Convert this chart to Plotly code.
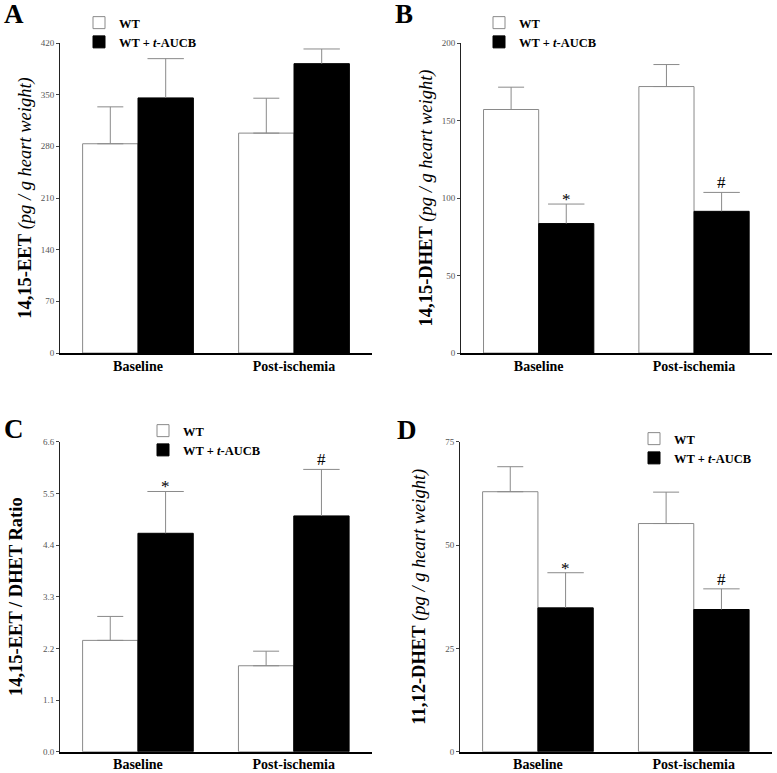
import plotly.graph_objects as go

categories = ["Baseline", "Post-ischemia"]

# Panel A: 14,15-EET
a_wt = [283.5, 297.9]
a_wt_err = [50.0, 47.3]
a_tr = [345.6, 392.0]
a_tr_err = [53.2, 19.9]

# Panel B: 14,15-DHET
b_wt = [157.1, 171.9]
b_wt_err = [14.4, 14.2]
b_tr = [83.5, 91.4]
b_tr_err = [12.6, 12.2]

# Panel C: 14,15-EET / DHET ratio
c_wt = [2.37, 1.83]
c_wt_err = [0.51, 0.31]
c_tr = [4.65, 5.02]
c_tr_err = [0.89, 0.99]

# Panel D: 11,12-DHET
d_wt = [62.9, 55.2]
d_wt_err = [6.05, 7.6]
d_tr = [34.8, 34.4]
d_tr_err = [8.5, 5.0]

sig_b = ["*", "#"]
sig_c = ["*", "#"]
sig_d = ["*", "#"]

W, H = 777, 773
FONT = "Liberation Serif"
GRAY = "#8a8a8a"
BARGAP = 0.29
OFF = (1 - BARGAP) / 4  # centre offset of each bar within its group
CAP = 26  # cap length in px

def px_x(a, b):
    return [a / W, b / W]

def px_y(top, bottom):
    return [1 - bottom / H, 1 - top / H]

panels = [
    dict(k="", wt=a_wt, wte=a_wt_err, tr=a_tr, tre=a_tr_err, dx=px_x(60, 372), dy=px_y(43, 353),
         yr=[0, 420], dt=70, fmt="d", title="<b>14,15-EET</b> <i>(pg / g heart weight)</i>",
         standoff=4, leg=(79, 8), letter=("A", 14, 14), sig=None),
    dict(k="2", wt=b_wt, wte=b_wt_err, tr=b_tr, tre=b_tr_err, dx=px_x(461, 771.7), dy=px_y(43, 353),
         yr=[0, 200], dt=50, fmt="d", title="<b>14,15-DHET</b> <i>(pg / g heart weight)</i>",
         standoff=4, leg=(479, 8), letter=("B", 404, 14), sig=sig_b),
    dict(k="3", wt=c_wt, wte=c_wt_err, tr=c_tr, tre=c_tr_err, dx=px_x(60, 371.7), dy=px_y(441.7, 751.7),
         yr=[0, 6.6], dt=1.1, fmt=".1f", title="<b>14,15-EET / DHET Ratio</b>",
         standoff=15, leg=(143, 416), letter=("C", 14, 429), sig=sig_c),
    dict(k="4", wt=d_wt, wte=d_wt_err, tr=d_tr, tre=d_tr_err, dx=px_x(460, 771.7), dy=px_y(441.7, 751.7),
         yr=[0, 75], dt=25, fmt="d", title="<b>11,12-DHET</b> <i>(pg / g heart weight)</i>",
         standoff=14, leg=(634, 424), letter=("D", 407, 430), sig=sig_d),
]

SIG_SHIFT = {"*": -7, "#": -2}

fig = go.Figure()
layout = dict(
    width=W, height=H, margin=dict(l=0, r=0, t=0, b=0),
    paper_bgcolor="white", plot_bgcolor="white",
    barmode="group", bargap=BARGAP, bargroupgap=0,
    font=dict(family=FONT, color="black"),
    showlegend=True,
)
annotations = []
xs = list(range(len(categories)))

for i, p in enumerate(panels):
    k = p["k"]
    legname = "legend" if i == 0 else f"legend{i+1}"
    fig.add_trace(go.Bar(
        x=xs, y=p["wt"], name="WT",
        marker=dict(color="white", line=dict(color=GRAY, width=1)),
        error_y=dict(type="data", array=p["wte"], arrayminus=[0, 0], symmetric=False,
                     color=GRAY, thickness=1, width=CAP / 2),
        xaxis="x" + k, yaxis="y" + k, legend=legname,
    ))
    fig.add_trace(go.Bar(
        x=xs, y=p["tr"], name="WT + <i>t</i>-AUCB",
        marker=dict(color="black", line=dict(color="black", width=1)),
        error_y=dict(type="data", array=p["tre"], arrayminus=[0, 0], symmetric=False,
                     color=GRAY, thickness=1, width=0),
        xaxis="x" + k, yaxis="y" + k, legend=legname,
    ))
    # top caps of the treated-group error bars
    fig.add_trace(go.Scatter(
        x=[x + OFF for x in xs], y=[v + e for v, e in zip(p["tr"], p["tre"])],
        mode="markers", marker=dict(symbol="line-ew", size=CAP, color=GRAY,
                                    line=dict(color=GRAY, width=1)),
        showlegend=False, hoverinfo="skip",
        xaxis="x" + k, yaxis="y" + k,
    ))
    xa = dict(domain=p["dx"], anchor="y" + k, range=[-0.5, 1.5],
              tickvals=xs, ticktext=categories, ticklabelstandoff=-1,
              showline=True, linecolor="black", linewidth=1.5, ticks="",
              showgrid=False, zeroline=False, automargin=False, fixedrange=True,
              tickfont=dict(family=FONT, size=14, color="black", weight="bold"))
    ya = dict(domain=p["dy"], anchor="x" + k, range=p["yr"], tick0=0, dtick=p["dt"],
              tickformat=p["fmt"], showline=True, linecolor="#222", linewidth=1,
              ticks="outside", ticklen=3, tickcolor="#444", showgrid=False, zeroline=False,
              automargin=False,
              tickfont=dict(family=FONT, size=9, color="#555"),
              title=dict(text=p["title"], standoff=p["standoff"],
                         font=dict(family=FONT, size=18.5, color="black")))
    layout["xaxis" + k] = xa
    layout["yaxis" + k] = ya
    lx, ly = p["leg"]
    layout[legname] = dict(x=lx / W, y=1 - ly / H, xanchor="left", yanchor="top",
                           xref="paper", yref="paper",
                           bgcolor="rgba(0,0,0,0)", borderwidth=0,
                           font=dict(family=FONT, size=12.5, color="black", weight="bold"),
                           tracegroupgap=0)
    letter, lxp, lyp = p["letter"]
    annotations.append(dict(text=f"<b>{letter}</b>", x=lxp / W, y=1 - lyp / H, xref="paper", yref="paper",
                            xanchor="center", yanchor="middle", showarrow=False,
                            font=dict(family=FONT, size=27, color="black")))
    if p["sig"]:
        for j, s in enumerate(p["sig"]):
            annotations.append(dict(text=s, x=j + OFF, y=p["tr"][j] + p["tre"][j],
                                    xref="x" + k, yref="y" + k, xanchor="center", yanchor="bottom",
                                    yshift=SIG_SHIFT[s], showarrow=False,
                                    font=dict(family=FONT, size=17, color="black")))

layout["annotations"] = annotations
fig.update_layout(**layout)
fig.write_html("out.html", config={"displayModeBar": False},
               post_script="document.body.style.margin='0';")
